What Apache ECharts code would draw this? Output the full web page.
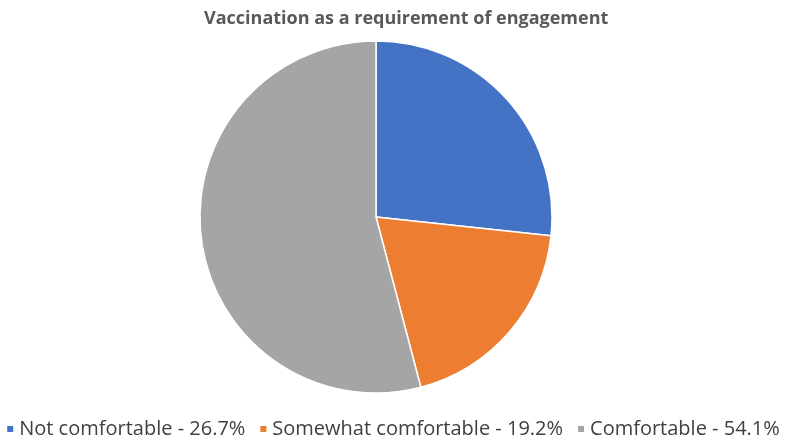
<!DOCTYPE html>
<html>
<head>
<meta charset="utf-8">
<script src="https://cdn.jsdelivr.net/npm/echarts@6/dist/echarts.min.js"></script>
<style>
  html, body { margin: 0; padding: 0; background: #fff; }
  #main { width: 785px; height: 438px; }
</style>
</head>
<body>
<div id="main"></div>
<script>
var categories = ['Not comfortable', 'Somewhat comfortable', 'Comfortable'];
var values = [26.7, 19.2, 54.1];
var colors = ['#4472C4', '#ED7D31', '#A5A5A5'];

var chart = echarts.init(document.getElementById('main'));

var pieData = categories.map(function (name, i) {
    return { name: name, value: values[i], itemStyle: { color: colors[i] } };
});

var option = {
    animation: false,
    title: {
        text: 'Vaccination as a requirement of engagement',
        left: 199,
        top: 5,
        textStyle: {
            fontFamily: 'Open Sans',
            fontSize: 18,
            fontWeight: 'bold',
            color: '#595959'
        }
    },
    legend: {
        bottom: -6,
        left: 'center',
        itemWidth: 8,
        itemHeight: 8,
        itemGap: 13,
        icon: 'rect',
        textStyle: {
            fontFamily: 'Open Sans',
            fontSize: 20,
            color: '#404040'
        },
        formatter: function (name) {
            var i = categories.indexOf(name);
            return name + ' - ' + values[i].toFixed(1) + '%';
        },
        data: categories
    },
    series: [{
        type: 'pie',
        center: [376, 217],
        radius: 176,
        startAngle: 90,
        clockwise: true,
        label: { show: false },
        labelLine: { show: false },
        itemStyle: { borderColor: '#fff', borderWidth: 1.5 },
        emphasis: { disabled: true },
        data: pieData
    }]
};

chart.setOption(option);
window.addEventListener('resize', function () { chart.resize(); });
</script>
</body>
</html>
